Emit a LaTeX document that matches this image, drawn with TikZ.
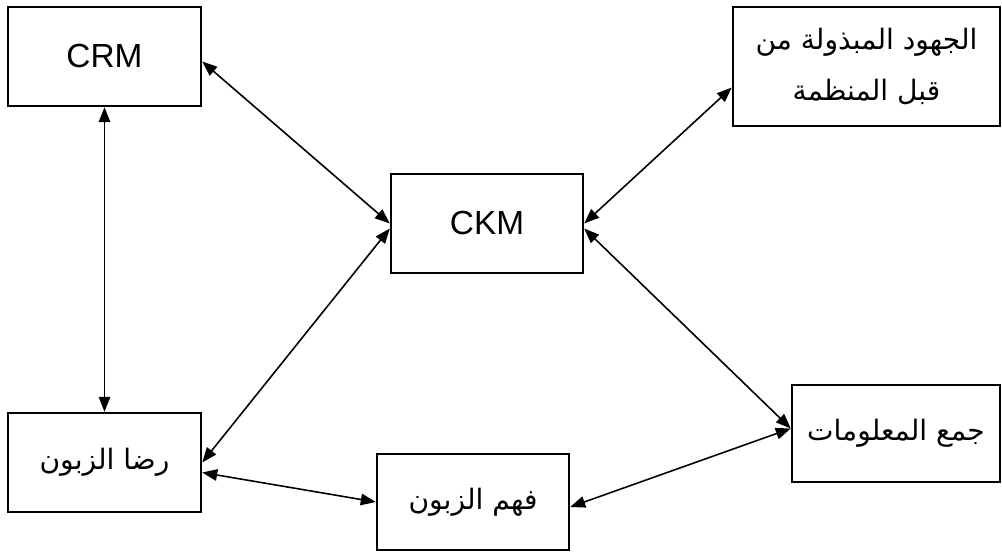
\documentclass[tikz,border=0pt]{standalone}
\usepackage{fontspec}
\setmainfont{Liberation Sans}
\newfontfamily\arabicfont[Script=Arabic]{DejaVu Sans}
\TeXXeTstate=1
\usetikzlibrary{arrows.meta, positioning}

\begin{document}
\begin{tikzpicture}[x=0.02cm, y=-0.02cm,
    box/.style={draw, line width=1.4pt, inner sep=0pt, align=center},
    latin/.style={font=\fontsize{19}{23}\selectfont},
    arab/.style={font=\fontsize{16}{29}\selectfont\arabicfont},
    link/.style={{Triangle[length=3mm, width=2.3mm]}-{Triangle[length=3mm, width=2.3mm]}, line width=0.9pt}]
        \useasboundingbox (0,0) rectangle (1002,554);

        \node (crm) [box, latin, minimum width=3.86cm, minimum height=1.98cm] at (104.5,56.5) {CRM};
        \node (ckm) [box, latin, minimum width=3.84cm, minimum height=1.98cm] at (487,223.5) {CKM};
        \node (effort) [box, arab, minimum width=5.34cm, minimum height=2.38cm] at (866.5,66.5)
            {\beginR الجهود المبذولة من\endR\\\beginR قبل المنظمة\endR};
        \node (rida) [box, arab, minimum width=3.86cm, minimum height=1.98cm] at (104.5,462.5) {\beginR رضا الزبون\endR};
        \node (fahm) [box, arab, minimum width=3.84cm, minimum height=1.92cm] at (473,502) {\beginR فهم الزبون\endR};
        \node (info) [box, arab, minimum width=4.16cm, minimum height=1.94cm] at (896,433.5) {\beginR جمع المعلومات\endR};

        \draw[link] ([yshift=-0.1cm]crm.east) -- (ckm.west);
        \draw[link] (crm.south) -- (rida.north);
        \draw[link] (rida.east) -- ([yshift=-0.1cm]ckm.west);
        \draw[link] (ckm.east) -- ([yshift=-0.42cm]effort.west);
        \draw[link] ([yshift=-0.1cm]ckm.east) -- ([yshift=0.1cm]info.west);
        \draw[link] ([yshift=-0.2cm]rida.east) -- (fahm.west);
        \draw[link] ([yshift=-0.1cm]fahm.east) -- ([yshift=0.1cm]info.west);
    \end{tikzpicture}
\end{document}
